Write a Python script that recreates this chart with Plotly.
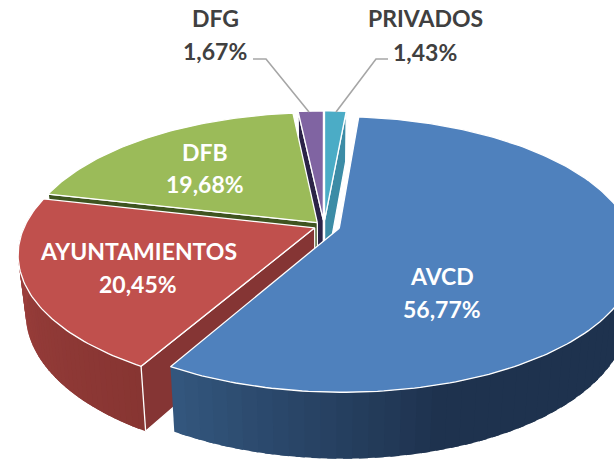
import math
import plotly.graph_objects as go

# ---- data ----
names = ["AVCD", "AYUNTAMIENTOS", "DFB", "DFG", "PRIVADOS"]
shares = [56.77, 20.45, 19.68, 1.67, 1.43]
top_colors = ["#4F81BD", "#C0504D", "#9BBB59", "#8064A2", "#4BACC6"]

# ---- style / geometry ----
START = 5.15          # clockwise angle where the first slice starts
CX, CY = 324, 226
A, B, P = 290, 132, 0.19
DEPTH, SHRINK = 57, 0.975
EXPLODE = [0.055, 0.035, 0.035, 0.045, 0.045]
cut_colors = ["#1F3349", "#853534", "#3F5420", "#2B2347", "#3C8CA6"]
wall_left = [(52, 88, 128), (160, 65, 62), None, None, None]
wall_right = [(30, 50, 78), (135, 53, 50), None, None, None]
label_xy = [(442, 276, 309), (138, 251, 284), (205, 152, 184), (215, 18, 51), (425, 18, 52)]
label_color = ["white", "white", "white", "#404040", "#404040"]


def project(u, v, low=False):
    w = 1 + P * v
    x, y = A * u / w, -B * v / w
    if low:
        x, y = x * SHRINK, y * SHRINK + DEPTH / w
    return CX + x, CY + y


def rim(th, ox, oy, low=False):
    r = math.radians(th)
    return project(ox + math.sin(r), oy + math.cos(r), low)


def poly(pts, fill, line="white", width=1.3):
    xs = [p[0] for p in pts] + [pts[0][0]]
    ys = [p[1] for p in pts] + [pts[0][1]]
    fig.add_trace(go.Scatter(x=xs, y=ys, mode="lines", fill="toself", fillcolor=fill,
                             line=dict(color=line, width=width), hoverinfo="skip",
                             showlegend=False))


fig = go.Figure()
spans = []
a = START
for s in shares:
    e = a + s * 3.6
    spans.append((a, e))
    a = e

for i in [3, 4, 2, 1, 0]:
    t0, t1 = spans[i]
    mid = math.radians((t0 + t1) / 2)
    ox, oy = EXPLODE[i] * math.sin(mid), EXPLODE[i] * math.cos(mid)
    # outer wall, only where it faces the viewer; strips overlap so no seams show
    if wall_left[i]:
        lo = max(t0, 85)
        hi = min(t1, 275)
        n = 48
        for k in range(n):
            a0 = lo + (hi - lo) * k / n
            a1 = min(hi, a0 + (hi - lo) / n + 1.5)
            f = min(1, (t1 - a0) / 47) if i == 0 else 1 - (a0 - lo) / (hi - lo)
            c = [round(wall_left[i][j] + (wall_right[i][j] - wall_left[i][j]) * f) for j in range(3)]
            col = f"rgb({c[0]},{c[1]},{c[2]})"
            arc = [rim(a0 + (a1 - a0) * q / 4, ox, oy) for q in range(5)]
            arc_low = [rim(a1 - (a1 - a0) * q / 4, ox, oy, True) for q in range(5)]
            poly(arc + arc_low, col, line=col, width=0)
    # radial cut face
    edge = {0: None, 1: t0, 2: t0, 3: t0, 4: t1}[i]
    if edge is not None:
        ap_t = project(ox, oy)
        ap_b = project(ox, oy, True)
        poly([ap_t, rim(edge, ox, oy), rim(edge, ox, oy, True), ap_b], cut_colors[i])
    # top face
    m = max(4, int(t1 - t0))
    pts = [project(ox, oy)] + [rim(t0 + (t1 - t0) * k / m, ox, oy) for k in range(m + 1)]
    poly(pts, top_colors[i])

# leader lines
for lx, ly in [((253, 266, 309), (59, 59, 112)), ((388, 376, 336), (59, 59, 112))]:
    fig.add_trace(go.Scatter(x=list(lx), y=list(ly), mode="lines", hoverinfo="skip", showlegend=False,
                             line=dict(color="#A6A6A6", width=1.6)))

for name, share, (lx, y1, y2), col in zip(names, shares, label_xy, label_color):
    text2 = f"{share:.2f}%".replace(".", ",")
    for txt, yy in ((name, y1), (text2, y2)):
        fig.add_annotation(x=lx, y=yy, text=f"<b>{txt}</b>", showarrow=False,
                           font=dict(family="Lato", size=23, color=col))

fig.update_layout(width=614, height=459, margin=dict(l=0, r=0, t=0, b=0),
                  paper_bgcolor="white", plot_bgcolor="white", showlegend=False,
                  xaxis=dict(range=[0, 614], visible=False, fixedrange=True),
                  yaxis=dict(range=[459, 0], visible=False, fixedrange=True))
fig.write_html("out.html", config=dict(displayModeBar=False),
               post_script="document.body.style.margin='0';document.body.style.overflow='hidden';")
